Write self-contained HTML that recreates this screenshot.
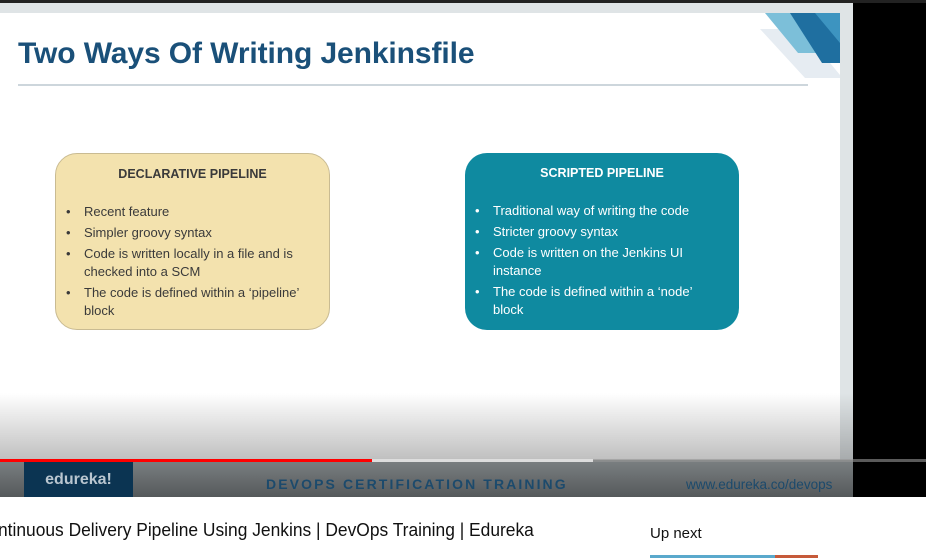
<!DOCTYPE html>
<html><head><meta charset="utf-8"><style>
*{margin:0;padding:0;box-sizing:border-box}
body{width:926px;height:558px;overflow:hidden;background:#fff;font-family:"Liberation Sans",sans-serif;position:relative}
.abs{position:absolute}
.box{position:absolute;border-radius:22px;font-size:13px;line-height:18px}
.box h3{font-size:12.5px;font-weight:bold;text-align:center;margin-top:11px;margin-bottom:20px}
.box ul{list-style:none;padding-left:10px;padding-right:22px}
.box li{position:relative;padding-left:18px;margin-bottom:3px}
.box li:before{content:"•";position:absolute;left:0}
</style></head><body>
<div class="abs" style="left:0;top:0;width:926px;height:3px;background:#222"></div>
<div class="abs" style="left:0;top:3px;width:926px;height:494px;background:#000">
  <div class="abs" style="left:0;top:0;width:853px;height:494px;background:#dfe4e6">
    <div class="abs" style="left:0;top:10px;width:840px;height:450px;background:#fff"></div>
    <div class="abs" style="left:760px;top:10px;width:80px;height:65px">
      <svg width="80" height="65"><polygon points="0,16 42,16 80,62 80,65 45,65" fill="#e6ecf2"/><polygon points="5,0 80,0 80,40 38,40" fill="#7cbfd9"/><polygon points="30,0 80,0 80,50 62,50" fill="#1f6fa0"/><polygon points="55,0 80,0 80,30" fill="#3d94c0"/></svg>
    </div>
    <div class="abs" style="left:18px;top:34px;font-size:30px;font-weight:bold;color:#1a5079;letter-spacing:-0.1px">Two Ways Of Writing Jenkinsfile</div>
    <div class="abs" style="left:18px;top:81px;width:790px;height:2px;background:#cdd6dc"></div>
    <div class="box" style="left:55px;top:150px;width:275px;height:177px;background:#f3e2ae;border:1px solid #c9bb92;color:#3a3a3a">
      <h3>DECLARATIVE PIPELINE</h3>
      <ul><li>Recent feature</li><li>Simpler groovy syntax</li><li>Code is written locally in a file and is checked into a SCM</li><li>The code is defined within a ‘pipeline’ block</li></ul>
    </div>
    <div class="box" style="left:465px;top:150px;width:274px;height:177px;background:#0f8aa0;color:#fff">
      <h3>SCRIPTED PIPELINE</h3>
      <ul style="padding-right:34px"><li>Traditional way of writing the code</li><li>Stricter groovy syntax</li><li>Code is written on the Jenkins UI instance</li><li>The code is defined within a ‘node’ block</li></ul>
    </div>
    <div class="abs" style="left:0;top:390px;width:853px;height:67px;background:linear-gradient(rgba(0,0,0,0),rgba(0,0,0,0.25))"></div>
    <div class="abs" style="left:0;top:457px;width:853px;height:37px;background:linear-gradient(#7b8082,#55595b)">
      <div class="abs" style="left:24px;top:0;width:109px;height:37px;background:#0b3452;color:#b9c6d0;font-size:16px;font-weight:bold;text-align:center;line-height:40px">edureka!</div>
      <div class="abs" style="left:266px;top:16px;font-size:14px;font-weight:bold;color:#1c4a6c;letter-spacing:2.1px">DEVOPS CERTIFICATION TRAINING</div>
      <div class="abs" style="left:686px;top:17px;font-size:13.5px;color:#1c4a6c">www.edureka.co/devops</div>
    </div>
  </div>
  <div class="abs" style="left:0;top:456px;width:926px;height:3px;background:rgba(150,150,150,0.6)"></div>
  <div class="abs" style="left:0;top:456px;width:593px;height:3px;background:#ddd"></div>
  <div class="abs" style="left:0;top:456px;width:372px;height:3px;background:#f00"></div>
</div>
<div class="abs" style="left:-2px;top:519px;font-size:18.5px;color:#111;transform:scaleX(0.94);transform-origin:left">ntinuous Delivery Pipeline Using Jenkins | DevOps Training | Edureka</div>
<div class="abs" style="left:650px;top:525px;font-size:15px;color:#111">Up next</div>
<div class="abs" style="left:650px;top:555px;width:125px;height:3px;background:#5aa9cc"></div>
<div class="abs" style="left:775px;top:555px;width:43px;height:3px;background:#c65a3a"></div>
</body></html>
